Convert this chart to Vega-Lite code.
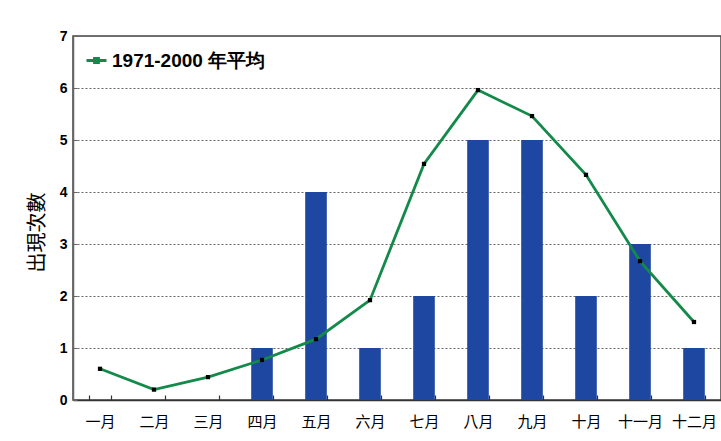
{
  "$schema": "https://vega.github.io/schema/vega-lite/v6.json",
  "width": 648,
  "height": 364,
  "autosize": {"type": "none"},
  "padding": {"left": 73, "top": 36, "right": 0, "bottom": 41},
  "background": "white",
  "data": {
    "values": [
      {"month": "一月", "count": 0, "avg": 0.6},
      {"month": "二月", "count": 0, "avg": 0.2},
      {"month": "三月", "count": 0, "avg": 0.44},
      {"month": "四月", "count": 1, "avg": 0.77},
      {"month": "五月", "count": 4, "avg": 1.17},
      {"month": "六月", "count": 1, "avg": 1.92},
      {"month": "七月", "count": 2, "avg": 4.54},
      {"month": "八月", "count": 5, "avg": 5.96},
      {"month": "九月", "count": 5, "avg": 5.46},
      {"month": "十月", "count": 2, "avg": 4.33},
      {"month": "十一月", "count": 3, "avg": 2.67},
      {"month": "十二月", "count": 1, "avg": 1.5}
    ]
  },
  "encoding": {
    "x": {
      "field": "month",
      "type": "nominal",
      "sort": null,
      "scale": {"paddingInner": 0.6, "paddingOuter": 0.3},
      "axis": {
        "title": null,
        "labelAngle": 0,
        "labelFont": "Noto Sans CJK TC",
        "labelFontSize": 15,
        "labelColor": "black",
        "labelPadding": 19,
        "domainColor": "#333",
        "domainWidth": 1.5,
        "tickBand": "extent",
        "tickSize": -5,
        "tickWidth": 1.2,
        "tickColor": "#333",
        "grid": false
      }
    }
  },
  "layer": [
    {
      "mark": {"type": "bar", "color": "#1D47A0"},
      "encoding": {
        "y": {
          "field": "count",
          "type": "quantitative",
          "scale": {"domain": [0, 7]},
          "axis": {
            "title": "出現次數",
            "titleFont": "Noto Sans CJK TC",
            "titleFontSize": 20,
            "titleFontWeight": "normal",
            "titleColor": "black",
            "titlePadding": 12,
            "titleY": 196,
            "titleAlign": "center",
            "labelFont": "Liberation Sans",
            "labelFontWeight": "bold",
            "labelFontSize": 14,
            "labelColor": "black",
            "labelPadding": 10,
            "values": [0, 1, 2, 3, 4, 5, 6, 7],
            "labelOverlap": false,
            "tickSize": -4,
            "tickColor": "#666",
            "domainColor": "#666",
            "domainWidth": 1.5,
            "grid": true,
            "gridColor": "#666",
            "gridDash": [2, 2],
            "gridWidth": 1
          }
        }
      }
    },
    {
      "mark": {"type": "line", "strokeWidth": 2.8},
      "encoding": {
        "y": {
          "field": "avg",
          "type": "quantitative",
          "scale": {"domain": [0, 7]},
          "axis": {
            "title": "出現次數",
            "titleFont": "Noto Sans CJK TC",
            "titleFontSize": 20,
            "titleFontWeight": "normal",
            "titleColor": "black",
            "titlePadding": 12,
            "titleY": 196,
            "titleAlign": "center",
            "labelFont": "Liberation Sans",
            "labelFontWeight": "bold",
            "labelFontSize": 14,
            "labelColor": "black",
            "labelPadding": 10,
            "values": [0, 1, 2, 3, 4, 5, 6, 7],
            "labelOverlap": false,
            "tickSize": -4,
            "tickColor": "#666",
            "domainColor": "#666",
            "domainWidth": 1.5,
            "grid": true,
            "gridColor": "#666",
            "gridDash": [2, 2],
            "gridWidth": 1
          }
        },
        "color": {
          "datum": "1971-2000 年平均",
          "type": "nominal",
          "scale": {"range": ["#138A4A"]},
          "legend": {
            "title": null,
            "orient": "none",
            "legendX": 12,
            "legendY": 13,
            "labelFont": "Liberation Sans",
            "labelFontWeight": "bold",
            "labelFontSize": 19,
            "labelColor": "black",
            "labelOffset": 4,
            "symbolType": "M-1,0H1M-0.2,-0.2H0.2V0.2H-0.2Z",
            "symbolSize": 400,
            "symbolStrokeWidth": 2.8,
            "symbolFillColor": "black"
          }
        }
      }
    },
    {
      "mark": {"type": "square", "color": "black", "size": 18, "opacity": 1},
      "encoding": {
        "y": {
          "field": "avg",
          "type": "quantitative",
          "scale": {"domain": [0, 7]},
          "axis": {
            "title": "出現次數",
            "titleFont": "Noto Sans CJK TC",
            "titleFontSize": 20,
            "titleFontWeight": "normal",
            "titleColor": "black",
            "titlePadding": 12,
            "titleY": 196,
            "titleAlign": "center",
            "labelFont": "Liberation Sans",
            "labelFontWeight": "bold",
            "labelFontSize": 14,
            "labelColor": "black",
            "labelPadding": 10,
            "values": [0, 1, 2, 3, 4, 5, 6, 7],
            "labelOverlap": false,
            "tickSize": -4,
            "tickColor": "#666",
            "domainColor": "#666",
            "domainWidth": 1.5,
            "grid": true,
            "gridColor": "#666",
            "gridDash": [2, 2],
            "gridWidth": 1
          }
        }
      }
    }
  ],
  "config": {
    "view": {"stroke": "#444", "strokeWidth": 1.5}
  }
}
